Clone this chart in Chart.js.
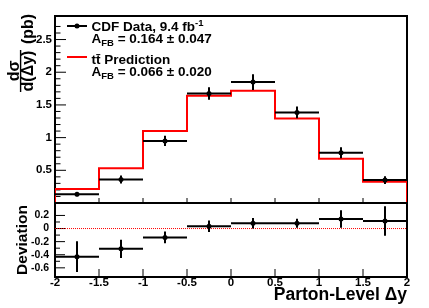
<!DOCTYPE html>
<html>
<head>
<meta charset="utf-8">
<script src="https://cdn.jsdelivr.net/npm/chart.js@4.4.1/dist/chart.umd.min.js"></script>
<style>
  body { margin: 0; background: #fff; }
  #wrap { position: relative; width: 429px; height: 308px; }
  canvas { position: absolute; left: 0; top: 0; }
</style>
</head>
<body>
<div id="wrap">
  <canvas id="xsec" width="429" height="308"></canvas>
  <canvas id="dev" width="429" height="308"></canvas>
</div>
<script>
// bins of parton-level delta y
const binEdges = [-2, -1.5, -1, -0.5, 0, 0.5, 1, 1.5, 2];
const binCenters = [-1.75, -1.25, -0.75, -0.25, 0.25, 0.75, 1.25, 1.75];

// dsigma/d(dy) in pb
const dataXsec = [0.133, 0.36, 0.95, 1.675, 1.85, 1.385, 0.768, 0.351];
const dataXsecErr = [0.03, 0.06, 0.08, 0.095, 0.12, 0.09, 0.085, 0.06];
const predXsec = [0.214, 0.53, 1.10, 1.64, 1.715, 1.293, 0.676, 0.325];

// (data - prediction) deviation
const deviation = [-0.43, -0.31, -0.135, 0.035, 0.08, 0.08, 0.145, 0.115];
const deviationErr = [0.235, 0.14, 0.088, 0.088, 0.08, 0.068, 0.133, 0.227];

// tick labels
const xTickLabels = ['-2', '-1.5', '-1', '-0.5', '0', '0.5', '1', '1.5', '2'];
const topYTicks = [0.5, 1, 1.5, 2, 2.5];
const topYLabels = ['0.5', '1', '1.5', '2', '2.5'];
const devYTicks = [-0.6, -0.4, -0.2, 0, 0.2];
const devYLabels = ['-0.6', '-0.4', '-0.2', '0', '0.2'];

const FONT = '"Liberation Sans", Arial, sans-serif';
Chart.defaults.font.family = FONT;
Chart.defaults.color = '#000';

const near = (a, b) => Math.abs(a - b) < 1e-6;
const isStep = (v, s) => near(v / s, Math.round(v / s));
function labelFor(values, labels) {
  return v => {
    const i = values.findIndex(t => near(t, v));
    return i < 0 ? '' : labels[i];
  };
}

// ROOT-like frame with ticks pointing inward
function framePlugin(majorVals, majorLen, minorLen, xLen) {
  return {
    id: 'rootFrame',
    beforeDatasetsDraw(chart) {
      const { ctx, chartArea: a } = chart;
      const xs = chart.scales.x, ys = chart.scales.y;
      ctx.save();
      ctx.strokeStyle = '#000';
      ctx.lineWidth = 1;
      ctx.beginPath();
      ys.ticks.forEach(t => {
        const major = majorVals.some(m => near(m, t.value));
        if (!major && !isStep(t.value, 0.1)) return;
        const p = ys.getPixelForValue(t.value);
        if (p < a.top + 2 || p > a.bottom - 2) return;
        ctx.moveTo(a.left, p);
        ctx.lineTo(a.left + (major ? majorLen : minorLen), p);
      });
      binEdges.forEach(v => {
        const p = xs.getPixelForValue(v);
        ctx.moveTo(p, a.bottom);
        ctx.lineTo(p, a.bottom - xLen);
      });
      ctx.stroke();
      ctx.lineWidth = 2;
      ctx.strokeRect(a.left, a.top, a.right - a.left, a.bottom - a.top);
      ctx.restore();
    }
  };
}

function errorBarPlugin(values, errors) {
  return {
    id: 'errorBars',
    afterDatasetsDraw(chart) {
      const { ctx } = chart;
      const xs = chart.scales.x, ys = chart.scales.y;
      ctx.save();
      ctx.strokeStyle = '#000';
      ctx.lineWidth = 2;
      ctx.beginPath();
      binCenters.forEach((c, i) => {
        const y = ys.getPixelForValue(values[i]);
        ctx.moveTo(xs.getPixelForValue(binEdges[i]), y);
        ctx.lineTo(xs.getPixelForValue(binEdges[i + 1]), y);
        const x = xs.getPixelForValue(c);
        ctx.moveTo(x, ys.getPixelForValue(values[i] - errors[i]));
        ctx.lineTo(x, ys.getPixelForValue(values[i] + errors[i]));
      });
      ctx.stroke();
      ctx.restore();
    }
  };
}

function drawRuns(ctx, x, y, runs) {
  runs.forEach(r => {
    ctx.font = 'bold ' + r.size + 'px ' + FONT;
    ctx.fillText(r.t, x, y + (r.dy || 0));
    x += ctx.measureText(r.t).width;
  });
}

function rotText(ctx, text, x, y) {
  ctx.save();
  ctx.translate(x, y);
  ctx.rotate(-Math.PI / 2);
  ctx.textAlign = 'center';
  ctx.textBaseline = 'alphabetic';
  ctx.fillText(text, 0, 0);
  ctx.restore();
}

const legendPlugin = {
  id: 'rootLegend',
  afterDraw(chart) {
    const { ctx } = chart;
    ctx.save();
    ctx.fillStyle = '#000';
    ctx.textAlign = 'left';
    ctx.textBaseline = 'alphabetic';
    ctx.lineWidth = 2;
    ctx.strokeStyle = '#000';
    ctx.beginPath(); ctx.moveTo(67, 26); ctx.lineTo(87, 26); ctx.stroke();
    ctx.beginPath(); ctx.arc(77, 26, 2.5, 0, Math.PI * 2); ctx.fill();
    drawRuns(ctx, 91.5, 31, [{ t: 'CDF Data, 9.4 fb', size: 13.5 }, { t: '-1', size: 9.5, dy: -5 }]);
    drawRuns(ctx, 91.5, 43, [{ t: 'A', size: 13.5 }, { t: 'FB', size: 9.5, dy: 3 }, { t: ' = 0.164 \u00b1 0.047', size: 13.5 }]);
    ctx.strokeStyle = '#ff0000';
    ctx.beginPath(); ctx.moveTo(67, 57); ctx.lineTo(87, 57); ctx.stroke();
    drawRuns(ctx, 91.5, 64, [{ t: 'tt\u0304 Prediction', size: 13.5 }]);
    drawRuns(ctx, 91.5, 75.5, [{ t: 'A', size: 13.5 }, { t: 'FB', size: 9.5, dy: 3 }, { t: ' = 0.066 \u00b1 0.020', size: 13.5 }]);

    // y title: dsigma / d(dy) (pb)
    ctx.font = 'bold 16px ' + FONT;
    rotText(ctx, 'd\u03c3', 18.5, 71);
    rotText(ctx, 'd(\u0394y)', 33, 71);
    rotText(ctx, '(pb)', 33, 29);
    ctx.lineWidth = 1.4;
    ctx.strokeStyle = '#000';
    ctx.beginPath(); ctx.moveTo(20.6, 50); ctx.lineTo(20.6, 92); ctx.stroke();
    ctx.restore();
  }
};

// prediction as a step histogram from the bin edges
const predSteps = [{ x: binEdges[0], y: 0 }]
  .concat(binEdges.slice(0, -1).map((e, i) => ({ x: e, y: predXsec[i] })))
  .concat([{ x: binEdges[binEdges.length - 1], y: predXsec[predXsec.length - 1] },
           { x: binEdges[binEdges.length - 1], y: 0 }]);

new Chart(document.getElementById('xsec'), {
  type: 'scatter',
  data: {
    datasets: [
      { type: 'line', data: predSteps, stepped: 'before', borderColor: '#ff0000', borderWidth: 2,
        pointRadius: 0, fill: false, order: 2 },
      { data: binCenters.map((c, i) => ({ x: c, y: dataXsec[i] })), pointRadius: 2.5,
        backgroundColor: '#000', borderWidth: 0, order: 1 }
    ]
  },
  options: {
    responsive: false,
    animation: false,
    devicePixelRatio: 1,
    layout: { padding: { left: 0, top: 16, right: 22, bottom: 105 } },
    plugins: { legend: { display: false }, tooltip: { enabled: false } },
    scales: {
      x: { type: 'linear', min: -2, max: 2, display: false },
      y: {
        min: 0, max: 2.86,
        afterFit(s) { s.width = 55; },
        grid: { display: false, drawTicks: false },
        border: { display: false },
        ticks: { stepSize: 0.1, autoSkip: false, padding: 3, font: { size: 11.5, weight: 'bold' },
                 callback: labelFor(topYTicks, topYLabels) }
      }
    }
  },
  plugins: [framePlugin(topYTicks, 11, 5.5, 5), errorBarPlugin(dataXsec, dataXsecErr), legendPlugin]
});

new Chart(document.getElementById('dev'), {
  type: 'scatter',
  data: {
    datasets: [
      { type: 'line', data: [{ x: binEdges[0], y: 0 }, { x: binEdges[binEdges.length - 1], y: 0 }],
        borderColor: '#ff0000', borderWidth: 1, borderDash: [1, 1], pointRadius: 0, fill: false, order: 2 },
      { data: binCenters.map((c, i) => ({ x: c, y: deviation[i] })), pointRadius: 2.5,
        backgroundColor: '#000', borderWidth: 0, order: 1 }
    ]
  },
  options: {
    responsive: false,
    animation: false,
    devicePixelRatio: 1,
    layout: { padding: { left: 0, top: 203, right: 22, bottom: 0 } },
    plugins: { legend: { display: false }, tooltip: { enabled: false } },
    scales: {
      x: {
        type: 'linear', min: -2, max: 2,
        afterFit(s) { s.height = 31; },
        grid: { display: false, drawTicks: false },
        border: { display: false },
        ticks: { stepSize: 0.5, autoSkip: false, maxRotation: 0, padding: 0,
                 font: { size: 11.5, weight: 'bold', lineHeight: 1 },
                 callback: labelFor(binEdges, xTickLabels) },
        title: { display: true, text: 'Parton-Level \u0394y', align: 'end',
                 font: { size: 17.5, weight: 'bold' }, padding: { top: 0, bottom: 2 } }
      },
      y: {
        min: -0.74, max: 0.39,
        afterFit(s) { s.width = 55; },
        grid: { display: false, drawTicks: false },
        border: { display: false },
        ticks: { stepSize: 0.1, autoSkip: false, padding: 6, font: { size: 10.5, weight: 'bold' },
                 callback: labelFor(devYTicks, devYLabels) },
        title: { display: true, text: 'Deviation', font: { size: 15.5, weight: 'bold' },
                 padding: { top: 13, bottom: 0 } }
      }
    }
  },
  plugins: [framePlugin(devYTicks, 10, 5, 8), errorBarPlugin(deviation, deviationErr)]
});
</script>
</body>
</html>
